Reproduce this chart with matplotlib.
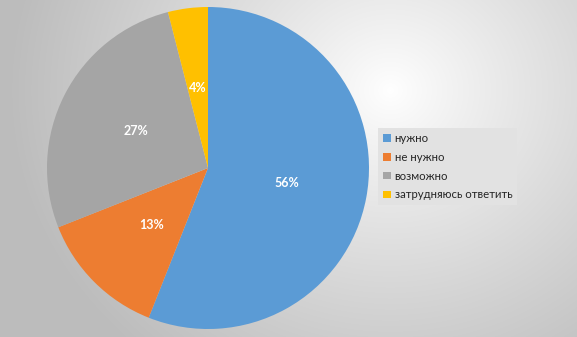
"""
Pie chart of survey answers (Russian labels) on a soft gray gradient background
"""
import matplotlib.pyplot as plt
import numpy as np

CATEGORIES = ["нужно", "не нужно", "возможно", "затрудняюсь ответить"]
SHARES = [56, 13, 27, 4]
COLORS = ["#5B9BD5", "#ED7D31", "#A5A5A5", "#FFC000"]

W, H, DPI = 577, 337, 100

plt.rcParams["font.family"] = ["Lato", "DejaVu Sans"]

fig = plt.figure(figsize=(W / DPI, H / DPI), dpi=DPI)

# radial gradient background, lightest slightly right of the pie
bg = fig.add_axes([0, 0, 1, 1], zorder=0)
yy, xx = np.mgrid[0:H, 0:W]
d = np.hypot(xx - 390, (yy - 90) * 1.1) / 380
d = np.clip(d, 0, 1)
light = 1.0 - 0.26 * d ** 0.9
bg.imshow(np.dstack([light] * 3), aspect="auto", extent=[0, 1, 0, 1])
bg.set_axis_off()

cx, cy, r = 208, 168, 161
ax = fig.add_axes([(cx - r) / W, (H - cy - r) / H, 2 * r / W, 2 * r / H], zorder=1)
wedges, _, autotexts = ax.pie(
    SHARES, colors=COLORS, startangle=90, counterclock=False,
    autopct="%d%%", pctdistance=0.5, radius=1,
    wedgeprops=dict(linewidth=0),
)
for t in autotexts:
    t.set_color("white")
    t.set_fontweight("bold")
    t.set_fontsize(9)
ax.set_xlim(-1, 1)
ax.set_ylim(-1, 1)
ax.set_aspect("equal")
ax.set_axis_off()

leg = fig.legend(
    wedges, CATEGORIES, loc="upper left",
    bbox_to_anchor=(378 / W, 1 - 128 / H), borderaxespad=0,
    frameon=True, fancybox=False, fontsize=8.2,
    handlelength=0.65, handleheight=0.65, handletextpad=0.35,
    labelspacing=0.68, borderpad=0.45,
)
leg.get_frame().set_facecolor("#e2e2e2")
leg.get_frame().set_edgecolor("none")
leg.get_frame().set_alpha(1)
for t in leg.get_texts():
    t.set_color("#262626")

fig.savefig("out.png", dpi=DPI)
